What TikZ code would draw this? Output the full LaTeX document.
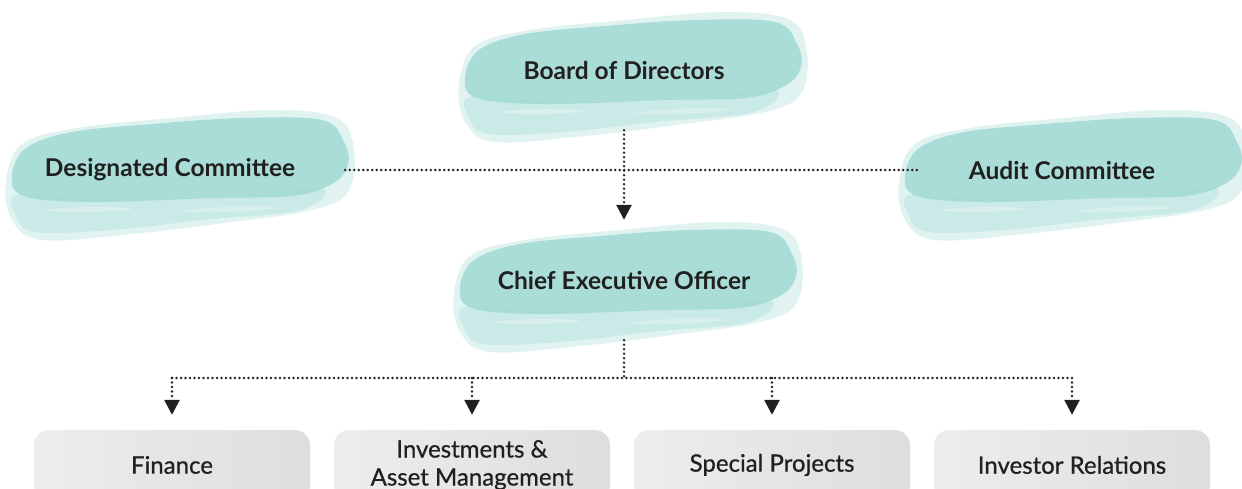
\documentclass[tikz,border=0pt]{standalone}
\usepackage{fontspec}
\setmainfont{Lato}
\newfontfamily\deptfont[FakeBold=0.7]{Lato}
\usetikzlibrary{arrows.meta}

\definecolor{brushteal}{RGB}{158,216,210}
\definecolor{brushpale}{RGB}{200,234,230}
\definecolor{inkgray}{RGB}{32,32,32}

\begin{document}
\begin{tikzpicture}[x=1pt,y=-1pt]
\tikzset{brush/.pic = {
  \fill[brushpale, opacity=.55] plot[smooth cycle, tension=.6] coordinates {(-166,12) (-150,-26) (-95,-42) (0,-52) (100,-60) (165,-52) (182,-20) (176,22) (140,40) (60,52) (-40,64) (-130,70) (-160,50)};
  \fill[brushteal, opacity=.8] plot[smooth cycle, tension=.6] coordinates {(-160,6) (-146,-22) (-100,-38) (-20,-46) (70,-52) (150,-50) (172,-28) (176,-5) (160,14) (120,26) (40,28) (-80,32) (-148,26)};
  \fill[brushteal, opacity=.35] plot[smooth cycle, tension=.6] coordinates {(-152,24) (-60,30) (60,26) (150,18) (128,40) (30,50) (-60,60) (-136,62) (-156,46)};
  \fill[white, opacity=.3] plot[smooth cycle, tension=.8] coordinates {(-125,40) (-80,37) (-40,39) (-85,42)};
  \fill[white, opacity=.25] plot[smooth cycle, tension=.8] coordinates {(10,41) (70,36) (105,38) (55,42)};
}}
\tikzset{head/.style = {inner xsep=50pt, minimum height=120pt, text=inkgray, font=\fontsize{24.5}{28}\selectfont\bfseries}}
\tikzset{dept/.style = {draw=none, rounded corners=15pt, left color=black!7, right color=black!13, minimum width=276pt, minimum height=70pt, align=center, text=inkgray, font=\deptfont\fontsize{24}{28}\selectfont}}
\tikzset{link/.style = {inkgray, line width=2.6pt, dash pattern=on 0pt off 4.5pt, line cap=round}}
\tikzset{edge/.style = {link, -{Triangle[width=15pt,length=15pt]}}}
\clip (0,0) rectangle (1242,489);
% brush strokes
\pic at (625,72) {brush};
\pic at (172,170) {brush};
\pic at (1065,170) {brush};
\pic at (620,282) {brush};
% vertices
\node[head] (board) at (624,70) {Board of Directors};
\node[head] (desig) at (170,170) {Designated Committee};
\node[head] (audit) at (1062,170) {Audit Committee};
\node[head] (ceo) at (624,280) {Chief Executive Officer};
\node[dept] (fin) at (172,465) {Finance};
\node[dept] (inv) at (472,465) {Investments \&\\Asset Management};
\node[dept] (spec) at (772,465) {Special Projects};
\node[dept] (rel) at (1072,465) {Investor Relations};
\coordinate (bus) at (624,378);
% edges
\draw[link] (desig.east) -- (audit.west);
\draw[edge] (board.south) -- (ceo.north);
\draw[link] (ceo.south) -- (bus);
\draw[link] (fin.north |- bus) -- (rel.north |- bus);
\foreach \d in {fin,inv,spec,rel}
  \draw[edge, shorten >=15pt] (\d.north |- bus) -- (\d.north);
\end{tikzpicture}
\end{document}
